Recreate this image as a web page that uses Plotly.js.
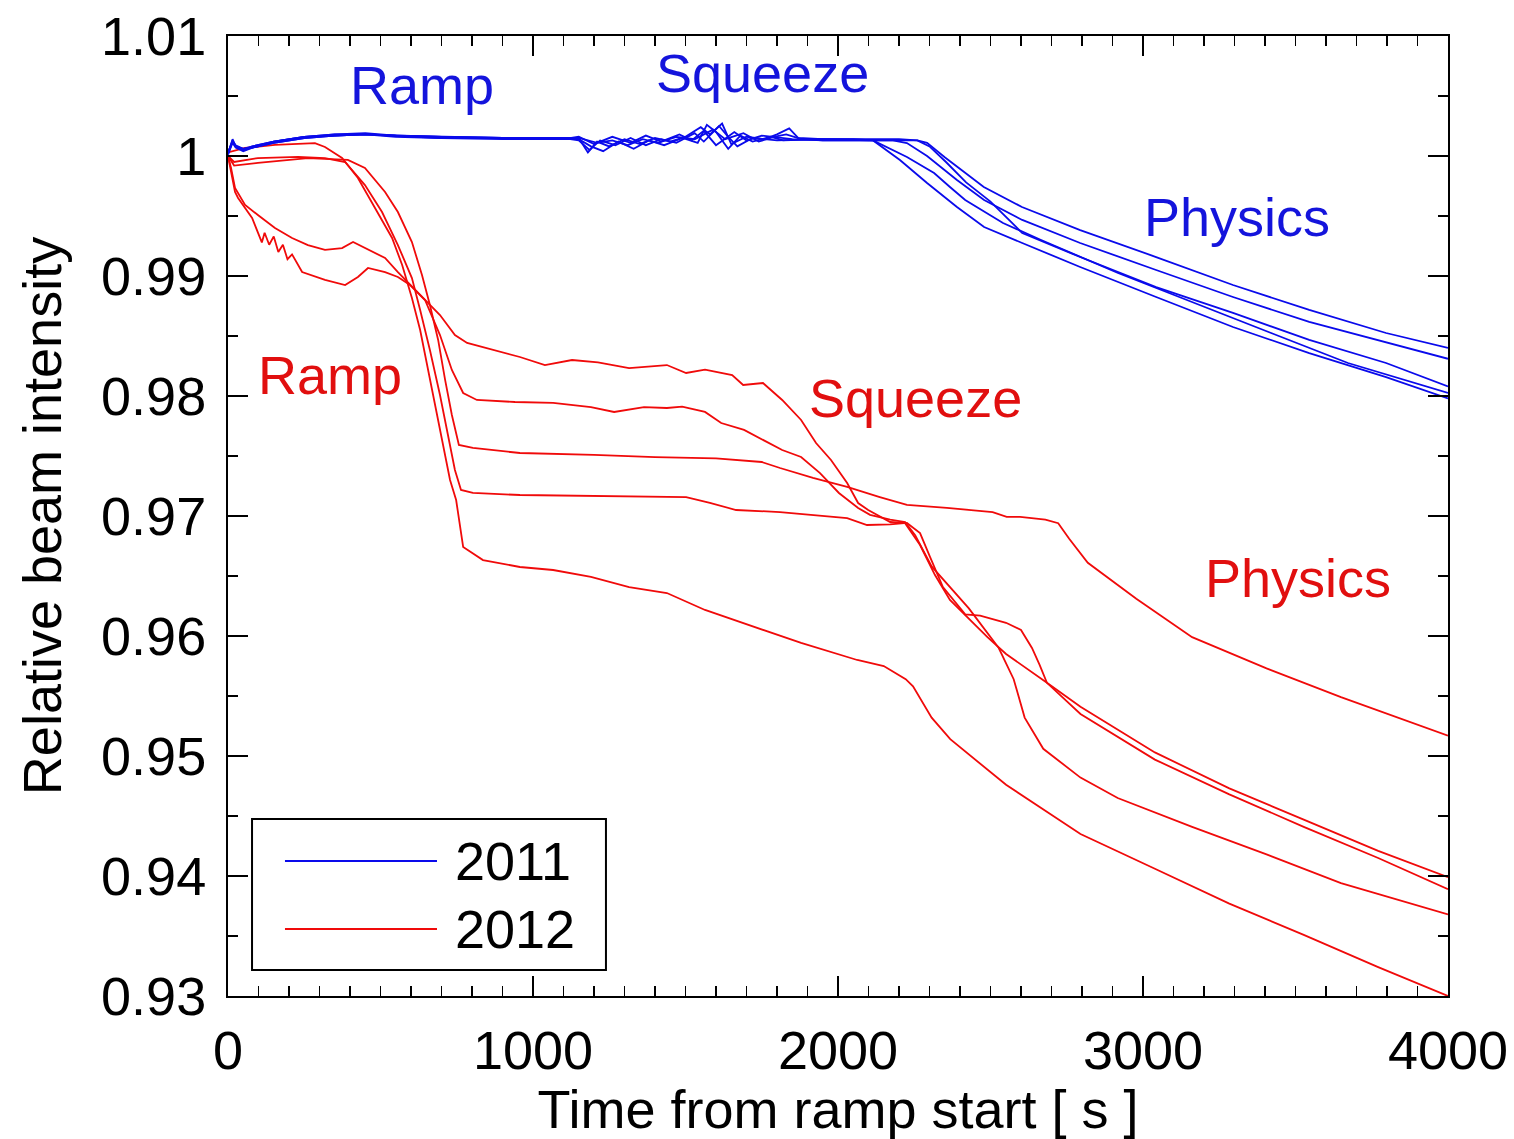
<!DOCTYPE html>
<html>
<head>
<meta charset="utf-8">
<script src="https://cdn.plot.ly/plotly-3.0.1.min.js"></script>
<style>html,body{margin:0;padding:0;background:#fff;}#chart{width:1514px;height:1139px;}</style>
</head>
<body>
<div id="chart"></div>
<script>
// ---- 2011 fills (blue) ----
const t11_a = [0,15,25,50,80,150,250,350,450,550,700,900,1100,1150,1180,1210,1250,1300,1350,1400,1450,1500,1550,1580,1620,1650,1700,1760,1800,1840,1870,1950,2100,2200,2260,2292,2350,2417,2478,2603,2794,3043,3295,3545,3797,4000];
const y11_a = [1.0002,1.0013,1.0008,1.0005,1.0008,1.0012,1.0016,1.0018,1.0019,1.0017,1.0016,1.0015,1.0015,1.0015,1.0003,1.0012,1.0008,1.0014,1.0010,1.0015,1.0012,1.0016,1.0024,1.0018,1.0027,1.0010,1.0016,1.0014,1.0018,1.0023,1.0015,1.0014,1.0014,1.0014,1.0013,1.0011,0.9999,0.99858,0.99742,0.99575,0.99383,0.99158,0.98925,0.98717,0.98525,0.9840];
const t11_b = [0,15,25,50,80,150,250,350,450,550,700,900,1100,1150,1190,1230,1280,1330,1380,1430,1490,1540,1570,1600,1640,1680,1720,1780,1820,1950,2100,2180,2226,2292,2390,2479,2604,2794,3043,3295,3545,3797,4000];
const y11_b = [1.0001,1.0011,1.0007,1.0004,1.0007,1.0011,1.0015,1.0017,1.0018,1.0016,1.0015,1.0014,1.0014,1.0014,1.0008,1.0004,1.0012,1.0006,1.0013,1.0009,1.0015,1.0011,1.0026,1.0020,1.0006,1.0017,1.0012,1.0016,1.0013,1.0014,1.0013,1.0013,1.00108,1.0000,0.9980,0.99633,0.99467,0.99275,0.9905,0.98825,0.98617,0.9845,0.9831];
const t11_c = [0,15,25,50,80,150,250,350,450,550,700,900,1100,1150,1200,1260,1320,1370,1420,1480,1520,1560,1600,1660,1700,1750,1850,1950,2050,2115,2203,2292,2390,2479,2604,2794,3043,3295,3545,3797,4000];
const y11_c = [1.0003,1.0012,1.0009,1.0006,1.0008,1.0012,1.0016,1.0017,1.0018,1.0017,1.0016,1.0015,1.0014,1.0016,1.0010,1.0016,1.0011,1.0017,1.0012,1.0018,1.0013,1.0021,1.0009,1.0020,1.0013,1.0017,1.0014,1.0013,1.0013,1.0013,0.99967,0.99775,0.99575,0.99408,0.99275,0.99075,0.98825,0.98575,0.98358,0.98158,0.9798];
const t11_d = [0,15,25,50,80,150,250,350,450,550,700,900,1100,1150,1185,1220,1270,1320,1370,1420,1470,1530,1560,1610,1640,1670,1720,1800,1950,2050,2115,2226,2315,2367,2417,2541,2666,2918,3167,3420,3672,4000];
const y11_d = [1.0002,1.0014,1.0008,1.0005,1.0007,1.0011,1.0015,1.0017,1.0018,1.0017,1.0015,1.0015,1.0015,1.0013,1.0005,1.0013,1.0009,1.0015,1.0009,1.0014,1.0011,1.0019,1.0012,1.0025,1.0016,1.0008,1.0015,1.0013,1.0014,1.0014,1.0013,0.99992,0.99858,0.99742,0.99633,0.99442,0.993,0.99025,0.98775,0.98525,0.98275,0.98025];
const t11_e = [0,15,25,50,80,150,250,350,450,550,700,900,1100,1150,1210,1260,1310,1360,1410,1470,1530,1590,1630,1690,1740,1790,1830,1880,1950,2100,2260,2300,2354,2420,2500,2604,2794,3043,3295,3545,3797,4000];
const y11_e = [1.0002,1.0012,1.0008,1.0006,1.0007,1.0012,1.0016,1.0018,1.0018,1.0017,1.0016,1.0015,1.0015,1.0015,1.0011,1.0013,1.0009,1.0014,1.0011,1.0016,1.0014,1.0022,1.0014,1.0019,1.0012,1.0016,1.0018,1.0014,1.0013,1.0013,1.0013,1.0008,0.9995,0.9978,0.9962,0.99358,0.99158,0.98908,0.98692,0.98467,0.98275,0.9808];

// ---- 2012 fills (red) ----
const t12_a = [0,10,23,56,98,154,210,262,318,374,410,449,515,557,590,630,695,744,784,957,1039,1128,1213,1315,1439,1502,1564,1653,1689,1754,1817,1879,1928,1977,2030,2066,2099,2171,2220,2269,2318,2367,2490,2551,2685,2795,3039,3283,3527,3771,4000];
const y12_a = [1.0000,0.9990,0.99733,0.99592,0.99508,0.9940,0.99317,0.99258,0.99217,0.99233,0.99283,0.99233,0.9915,0.99033,0.9895,0.98842,0.98675,0.98508,0.98442,0.98325,0.98258,0.9830,0.9828,0.98233,0.98258,0.98192,0.9822,0.98175,0.98092,0.98108,0.97967,0.978,0.97608,0.97467,0.97275,0.97108,0.9705,0.9695,0.9694,0.96758,0.96508,0.963,0.9599,0.9585,0.9561,0.9541,0.9503,0.9473,0.9447,0.9421,0.9399];
const t12_b = [0,10,23,33,79,111,120,135,150,165,180,195,210,243,318,384,426,459,515,557,597,646,695,734,771,816,941,1066,1190,1266,1364,1439,1489,1564,1617,1692,1754,1817,1879,1941,2003,2066,2105,2171,2220,2253,2307,2429,2527,2576,2612,2673,2795,2917,3161,3405,3649,4000];
const y12_b = [1.0000,0.9988,0.9970,0.9965,0.99483,0.9928,0.9936,0.9926,0.9933,0.9920,0.9926,0.9914,0.9918,0.99033,0.98967,0.98925,0.98992,0.99067,0.99033,0.98992,0.98925,0.988,0.98508,0.98217,0.98025,0.97967,0.9795,0.97942,0.97908,0.97867,0.97908,0.979,0.97912,0.97867,0.97775,0.97717,0.97633,0.9755,0.97492,0.97358,0.97192,0.97067,0.9701,0.9697,0.9695,0.9684,0.9658,0.9623,0.9590,0.9564,0.9532,0.9506,0.9482,0.9465,0.9441,0.9418,0.9394,0.9368];
const t12_c = [0,20,98,262,393,449,515,557,603,636,662,689,712,734,757,803,957,1200,1400,1600,1750,1810,1918,2030,2137,2226,2357,2507,2553,2597,2680,2722,2758,2819,2978,3161,3405,3649,4000];
const y12_c = [1.0000,0.9992,0.99942,0.99983,0.99967,0.999,0.997,0.99533,0.99283,0.99008,0.98758,0.98467,0.98133,0.97842,0.97592,0.97567,0.97525,0.9751,0.9749,0.9748,0.9745,0.9740,0.97317,0.97242,0.97158,0.97092,0.97067,0.97033,0.96992,0.96992,0.9697,0.9694,0.9681,0.9661,0.9631,0.9599,0.9573,0.9549,0.9517];
const t12_d = [0,20,98,230,318,384,449,505,557,603,630,662,695,718,744,764,803,957,1100,1300,1440,1502,1580,1666,1810,1918,2030,2095,2171,2226,2269,2302,2344,2417,2466,2551,2600,2636,2661,2685,2795,3039,3283,3527,3771,4000];
const y12_d = [1.0000,0.9995,0.99983,0.99992,0.99983,0.9995,0.99758,0.99533,0.99258,0.98983,0.98717,0.98383,0.98008,0.97717,0.97383,0.97217,0.97192,0.97175,0.9717,0.97165,0.9716,0.97158,0.9711,0.9705,0.97033,0.97008,0.96983,0.96925,0.9693,0.96942,0.96858,0.96658,0.96408,0.9618,0.9617,0.9611,0.9605,0.9590,0.9576,0.9561,0.9535,0.9497,0.9468,0.9441,0.9415,0.9389];
const t12_e = [0,56,154,285,318,374,426,482,538,571,603,630,656,682,708,728,748,757,771,836,957,1066,1190,1315,1439,1564,1689,1817,1879,2063,2150,2222,2246,2307,2368,2551,2795,3039,3283,3527,3771,4000];
const y12_e = [1.0003,1.00067,1.00092,1.00108,1.00075,0.99983,0.99817,0.99567,0.99317,0.99092,0.98817,0.9855,0.98217,0.97883,0.9755,0.973,0.97133,0.96967,0.96742,0.96633,0.96575,0.9655,0.96492,0.96408,0.96358,0.96217,0.96108,0.95992,0.95942,0.9580,0.9575,0.9564,0.9558,0.9532,0.9514,0.9476,0.9435,0.9406,0.9377,0.9351,0.9324,0.9300];

// ---- labels / ticks ----
const yTickVals = [0.93,0.94,0.95,0.96,0.97,0.98,0.99,1.00,1.01];
const yTickText = ["0.93","0.94","0.95","0.96","0.97","0.98","0.99","1","1.01"];
const xTickVals = [0,1000,2000,3000,4000];
const xTickText = ["0","1000","2000","3000","4000"];
const legendNames = ["2011","2012"];
const phaseLabels11 = {text:["Ramp","Squeeze","Physics"], x:[636,1751,3309], y:[1.0059,1.0069,0.99492]};
const phaseLabels12 = {text:["Ramp","Squeeze","Physics"], x:[334,2253,3509], y:[0.98175,0.97983,0.96483]};

const BLUE = "rgb(10,10,235)";
const RED = "rgb(240,10,10)";
const FONT = "Liberation Sans, Arial, Helvetica, sans-serif";
const FS = 54;

const series11 = [[t11_a,y11_a],[t11_b,y11_b],[t11_c,y11_c],[t11_d,y11_d],[t11_e,y11_e]];
const series12 = [[t12_a,y12_a],[t12_b,y12_b],[t12_c,y12_c],[t12_d,y12_d],[t12_e,y12_e]];

const traces = [];
series12.forEach((s,i)=>traces.push({x:s[0],y:s[1],type:"scatter",mode:"lines",
  line:{color:RED,width:1.8},name:legendNames[1],showlegend:false,hoverinfo:"skip"}));
series11.forEach((s,i)=>traces.push({x:s[0],y:s[1],type:"scatter",mode:"lines",
  line:{color:BLUE,width:1.8},name:legendNames[0],showlegend:false,hoverinfo:"skip"}));

const annotations = [];
phaseLabels11.text.forEach((t,i)=>annotations.push({x:phaseLabels11.x[i],y:phaseLabels11.y[i],xref:"x",yref:"y",
  text:t,showarrow:false,font:{family:FONT,size:FS,color:"rgb(20,20,220)"}}));
phaseLabels12.text.forEach((t,i)=>annotations.push({x:phaseLabels12.x[i],y:phaseLabels12.y[i],xref:"x",yref:"y",
  text:t,showarrow:false,font:{family:FONT,size:FS,color:"rgb(225,15,15)"}}));
// legend (manual, paper coordinates)
annotations.push({xref:"paper",yref:"paper",x:0.1844,y:0.1406,xanchor:"left",yanchor:"middle",text:legendNames[0],showarrow:false,font:{family:FONT,size:FS,color:"black"}});
annotations.push({xref:"paper",yref:"paper",x:0.1844,y:0.0698,xanchor:"left",yanchor:"middle",text:legendNames[1],showarrow:false,font:{family:FONT,size:FS,color:"black"}});

const shapes = [
  {type:"rect",xref:"paper",yref:"paper",x0:0.0197,x1:0.3098,y0:0.0271,y1:0.1844,line:{color:"black",width:2},fillcolor:"white",layer:"above"},
  {type:"line",xref:"paper",yref:"paper",x0:0.0467,x1:0.1713,y0:0.1406,y1:0.1406,line:{color:BLUE,width:2},layer:"above"},
  {type:"line",xref:"paper",yref:"paper",x0:0.0467,x1:0.1713,y0:0.0698,y1:0.0698,line:{color:RED,width:2},layer:"above"}
];

const axisCommon = {showline:true,linecolor:"black",linewidth:2,mirror:"allticks",ticks:"inside",
  ticklen:20,tickwidth:2,tickcolor:"black",showgrid:false,zeroline:false,
  tickfont:{family:FONT,size:FS,color:"black"}};

const layout = {
  width:1514,height:1139,
  margin:{l:228,r:66,t:36,b:143},
  paper_bgcolor:"white",plot_bgcolor:"white",
  showlegend:false,
  xaxis:Object.assign({},axisCommon,{range:[0,4000],tickvals:xTickVals,ticktext:xTickText,
    minor:{dtick:100,tick0:0,ticks:"inside",ticklen:10,tickwidth:1.5,tickcolor:"black",showgrid:false},
    ticklabelstandoff:6,
    title:{text:"Time from ramp start [ s ]",font:{family:FONT,size:FS,color:"black"},standoff:8}}),
  yaxis:Object.assign({},axisCommon,{range:[0.93,1.01],tickvals:yTickVals,ticktext:yTickText,
    minor:{dtick:0.005,tick0:0.93,ticks:"inside",ticklen:10,tickwidth:1.5,tickcolor:"black",showgrid:false},
    ticklabelstandoff:9,
    title:{text:"Relative beam intensity",font:{family:FONT,size:FS,color:"black"},standoff:22}}),
  annotations:annotations,
  shapes:shapes
};

Plotly.newPlot("chart",traces,layout,{staticPlot:true,displayModeBar:false});
</script>
</body>
</html>
